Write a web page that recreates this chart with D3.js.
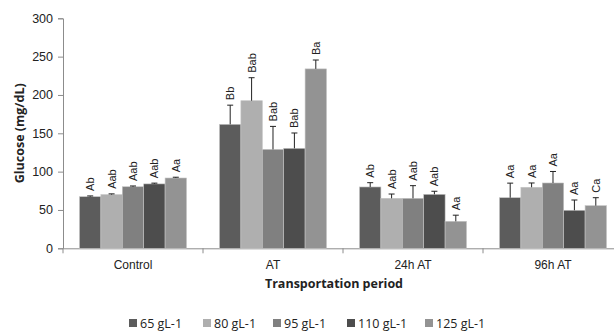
<!DOCTYPE html>
<html>
<head>
<meta charset="utf-8">
<script src="https://cdn.jsdelivr.net/npm/d3@7"></script>
<style>
  body { margin: 0; background: #fff; }
  text { fill: #222; }
</style>
</head>
<body>
<script>
// chart values
var periods = ["Control", "AT", "24h AT", "96h AT"];
var doses = ["65 gL-1", "80 gL-1", "95 gL-1", "110 gL-1", "125 gL-1"];
var colors = ["#5c5c5c", "#afafaf", "#808080", "#4d4d4d", "#939393"];

// glucose means, one array per period (order = doses)
var controlVals = [67.3, 70, 80.3, 84, 91.7];
var atVals = [161.7, 192.5, 129, 130.4, 234];
var at24Vals = [80, 65.2, 65.2, 70.4, 35.2];
var at96Vals = [66, 79.6, 85.2, 49.6, 55.6];

// standard errors
var controlErr = [1, 1, 1, 1, 1];
var atErr = [25, 30, 30, 20, 11.6];
var at24Err = [5.6, 5.6, 16.5, 4, 8];
var at96Err = [19, 5.6, 15, 13.4, 10.4];

// significance letters
var controlLab = ["Ab", "Aab", "Aab", "Aab", "Aa"];
var atLab = ["Bb", "Bab", "Bab", "Bab", "Ba"];
var at24Lab = ["Ab", "Aab", "Aab", "Aab", "Aa"];
var at96Lab = ["Aa", "Aa", "Aa", "Aa", "Ca"];

var yTicks = [0, 50, 100, 150, 200, 250, 300];

var allVals = [controlVals, atVals, at24Vals, at96Vals];
var allErr = [controlErr, atErr, at24Err, at96Err];
var allLab = [controlLab, atLab, at24Lab, at96Lab];

var rows = [];
periods.forEach(function(p, i) {
    doses.forEach(function(d, j) {
        rows.push({period: p, dose: d, value: allVals[i][j], err: allErr[i][j], lab: allLab[i][j]});
    });
});

var w = 614, h = 333;
var mLeft = 63, mRight = 623, mTop = 18.3, mBottom = 248.3;

var svg = d3.select("body").append("svg")
    .attr("width", w)
    .attr("height", h)
    .style("font-family", "'Open Sans', 'Liberation Sans', sans-serif");

var x0 = d3.scaleBand().domain(periods).range([mLeft, mRight]).padding(0);
var x1 = d3.scaleBand().domain(doses).range([16.5, x0.bandwidth() - 16.5]).padding(0);
var y = d3.scaleLinear().domain([0, 300]).range([mBottom, mTop]);
var color = d3.scaleOrdinal().domain(doses).range(colors);

// y axis
var yAxis = svg.append("g")
    .attr("transform", "translate(" + mLeft + ",0)")
    .call(d3.axisLeft(y).tickValues(yTicks).tickSize(5).tickPadding(5));
yAxis.select(".domain").attr("stroke", "#8c8c8c");
yAxis.selectAll(".tick line").attr("stroke", "#8c8c8c");
yAxis.selectAll(".tick text").style("font-size", "12.5px").attr("fill", "#222");

// x axis
var xAxis = svg.append("g")
    .attr("transform", "translate(0," + mBottom + ")")
    .call(d3.axisBottom(x0).tickSize(0).tickPadding(12));
xAxis.select(".domain").attr("stroke", "#8c8c8c");
xAxis.selectAll(".tick text").style("font-size", "12px").attr("fill", "#222");
xAxis.selectAll(".sep")
    .data(periods.concat(["end"]))
    .enter().append("line")
    .attr("x1", function(d, i) { return mLeft + i * x0.step(); })
    .attr("x2", function(d, i) { return mLeft + i * x0.step(); })
    .attr("y1", 0).attr("y2", 5)
    .attr("stroke", "#8c8c8c");

// bars
var bars = svg.append("g").selectAll("g")
    .data(rows)
    .enter().append("g")
    .attr("transform", function(d) { return "translate(" + (x0(d.period) + x1(d.dose)) + ",0)"; });

bars.append("rect")
    .attr("x", 0)
    .attr("y", function(d) { return y(d.value); })
    .attr("width", x1.bandwidth())
    .attr("height", function(d) { return mBottom - y(d.value); })
    .attr("fill", function(d) { return color(d.dose); })
    .attr("stroke", "#c4c4c4")
    .attr("stroke-width", 0.6);

var bw = x1.bandwidth();
bars.append("line")
    .attr("x1", bw / 2).attr("x2", bw / 2)
    .attr("y1", function(d) { return y(d.value); })
    .attr("y2", function(d) { return y(d.value + d.err); })
    .attr("stroke", "#222").attr("stroke-width", 1);
bars.append("line")
    .attr("x1", bw / 2 - 3).attr("x2", bw / 2 + 3)
    .attr("y1", function(d) { return y(d.value + d.err); })
    .attr("y2", function(d) { return y(d.value + d.err); })
    .attr("stroke", "#222").attr("stroke-width", 1);

bars.append("text")
    .attr("transform", function(d) {
        return "translate(" + (bw / 2 + 4) + "," + (y(d.value + d.err) - 5) + ") rotate(-90)";
    })
    .style("font-family", "'Liberation Sans', Arial, sans-serif")
    .style("font-size", "11px")
    .text(function(d) { return d.lab; });

// axis titles
svg.append("text")
    .attr("transform", "translate(24," + ((mTop + mBottom) / 2) + ") rotate(-90)")
    .attr("text-anchor", "middle")
    .style("font-size", "12.5px")
    .style("font-weight", "bold")
    .text("Glucose (mg/dL)");

svg.append("text")
    .attr("x", 334).attr("y", 288)
    .attr("text-anchor", "middle")
    .style("font-size", "12.5px")
    .style("font-weight", "bold")
    .text("Transportation period");

// legend
var legX = [129, 203, 273, 347, 425];
var leg = svg.append("g").selectAll("g")
    .data(doses)
    .enter().append("g")
    .attr("transform", function(d, i) { return "translate(" + legX[i] + ",319)"; });
leg.append("rect")
    .attr("width", 8).attr("height", 8)
    .attr("fill", function(d) { return color(d); });
leg.append("text")
    .attr("x", 11).attr("y", 8.5)
    .style("font-size", "12.5px")
    .text(function(d) { return d; });
</script>
</body>
</html>
